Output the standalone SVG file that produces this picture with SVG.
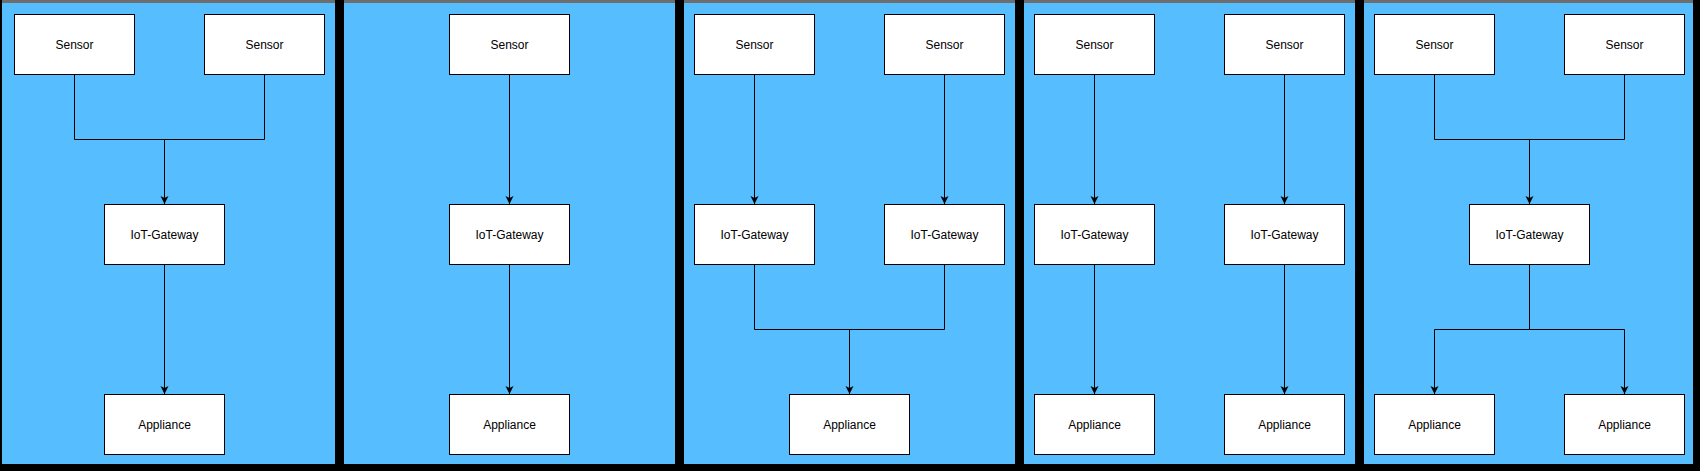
<svg xmlns="http://www.w3.org/2000/svg" width="1700" height="471" viewBox="0 0 1700 471">
<defs>
<style>
.panel{fill:#56BEFE}
.top{fill:#6e6e6e}
.box{fill:#ffffff;stroke:#000000;stroke-width:1}
.lbl{font-family:"Liberation Sans",Arial,Helvetica,sans-serif;font-size:12px;fill:#000000;text-anchor:middle}
.edge{fill:none;stroke:#000000;stroke-width:1}
.arr{fill:none;stroke:#000000;stroke-width:1;marker-end:url(#ah)}
</style>
<marker id="ah" markerUnits="userSpaceOnUse" markerWidth="10" markerHeight="10" refX="8" refY="4" orient="auto">
<path d="M0,0 L8,4 L0,8 L2,4 z" fill="#000000"/>
</marker>
</defs>
<rect x="0" y="0" width="1700" height="471" fill="#000000"/>
<g id="panels">
<rect class="panel" x="2" y="3" width="333" height="461"/>
<rect class="panel" x="344" y="3" width="331" height="461"/>
<rect class="panel" x="684" y="3" width="331" height="461"/>
<rect class="panel" x="1024" y="3" width="331" height="461"/>
<rect class="panel" x="1364" y="3" width="329" height="461"/>
<rect class="top" x="2" y="0" width="333" height="3"/>
<rect class="top" x="344" y="0" width="331" height="3"/>
<rect class="top" x="684" y="0" width="331" height="3"/>
<rect class="top" x="1024" y="0" width="331" height="3"/>
<rect class="top" x="1364" y="0" width="329" height="3"/>
</g>
<g id="connectors">
<path class="edge" d="M74.5,74.5 V139.5 H264.5 V74.5"/>
<path class="arr" d="M164.5,139.5 V204"/>
<path class="arr" d="M164.5,264.5 V394"/>
<path class="arr" d="M509.5,74.5 V204"/>
<path class="arr" d="M509.5,264.5 V394"/>
<path class="arr" d="M754.5,74.5 V204"/>
<path class="arr" d="M944.5,74.5 V204"/>
<path class="edge" d="M754.5,264.5 V329.5 H944.5 V264.5"/>
<path class="arr" d="M849.5,329.5 V394"/>
<path class="arr" d="M1094.5,74.5 V204"/>
<path class="arr" d="M1284.5,74.5 V204"/>
<path class="arr" d="M1094.5,264.5 V394"/>
<path class="arr" d="M1284.5,264.5 V394"/>
<path class="edge" d="M1434.5,74.5 V139.5 H1624.5 V74.5"/>
<path class="arr" d="M1529.5,139.5 V204"/>
<path class="edge" d="M1529.5,264.5 V329.5"/>
<path class="arr" d="M1529.5,329.5 H1434.5 V394"/>
<path class="arr" d="M1529.5,329.5 H1624.5 V394"/>
</g>
<g id="p1-sensor1"><rect class="box" x="14.5" y="14.5" width="120" height="60"/><text class="lbl" x="74.5" y="48.8">Sensor</text></g>
<g id="p1-sensor2"><rect class="box" x="204.5" y="14.5" width="120" height="60"/><text class="lbl" x="264.5" y="48.8">Sensor</text></g>
<g id="p1-gateway"><rect class="box" x="104.5" y="204.5" width="120" height="60"/><text class="lbl" x="164.5" y="238.8">IoT-Gateway</text></g>
<g id="p1-appliance"><rect class="box" x="104.5" y="394.5" width="120" height="60"/><text class="lbl" x="164.5" y="428.8">Appliance</text></g>
<g id="p2-sensor"><rect class="box" x="449.5" y="14.5" width="120" height="60"/><text class="lbl" x="509.5" y="48.8">Sensor</text></g>
<g id="p2-gateway"><rect class="box" x="449.5" y="204.5" width="120" height="60"/><text class="lbl" x="509.5" y="238.8">IoT-Gateway</text></g>
<g id="p2-appliance"><rect class="box" x="449.5" y="394.5" width="120" height="60"/><text class="lbl" x="509.5" y="428.8">Appliance</text></g>
<g id="p3-sensor1"><rect class="box" x="694.5" y="14.5" width="120" height="60"/><text class="lbl" x="754.5" y="48.8">Sensor</text></g>
<g id="p3-sensor2"><rect class="box" x="884.5" y="14.5" width="120" height="60"/><text class="lbl" x="944.5" y="48.8">Sensor</text></g>
<g id="p3-gateway1"><rect class="box" x="694.5" y="204.5" width="120" height="60"/><text class="lbl" x="754.5" y="238.8">IoT-Gateway</text></g>
<g id="p3-gateway2"><rect class="box" x="884.5" y="204.5" width="120" height="60"/><text class="lbl" x="944.5" y="238.8">IoT-Gateway</text></g>
<g id="p3-appliance"><rect class="box" x="789.5" y="394.5" width="120" height="60"/><text class="lbl" x="849.5" y="428.8">Appliance</text></g>
<g id="p4-sensor1"><rect class="box" x="1034.5" y="14.5" width="120" height="60"/><text class="lbl" x="1094.5" y="48.8">Sensor</text></g>
<g id="p4-sensor2"><rect class="box" x="1224.5" y="14.5" width="120" height="60"/><text class="lbl" x="1284.5" y="48.8">Sensor</text></g>
<g id="p4-gateway1"><rect class="box" x="1034.5" y="204.5" width="120" height="60"/><text class="lbl" x="1094.5" y="238.8">IoT-Gateway</text></g>
<g id="p4-gateway2"><rect class="box" x="1224.5" y="204.5" width="120" height="60"/><text class="lbl" x="1284.5" y="238.8">IoT-Gateway</text></g>
<g id="p4-appliance1"><rect class="box" x="1034.5" y="394.5" width="120" height="60"/><text class="lbl" x="1094.5" y="428.8">Appliance</text></g>
<g id="p4-appliance2"><rect class="box" x="1224.5" y="394.5" width="120" height="60"/><text class="lbl" x="1284.5" y="428.8">Appliance</text></g>
<g id="p5-sensor1"><rect class="box" x="1374.5" y="14.5" width="120" height="60"/><text class="lbl" x="1434.5" y="48.8">Sensor</text></g>
<g id="p5-sensor2"><rect class="box" x="1564.5" y="14.5" width="120" height="60"/><text class="lbl" x="1624.5" y="48.8">Sensor</text></g>
<g id="p5-gateway"><rect class="box" x="1469.5" y="204.5" width="120" height="60"/><text class="lbl" x="1529.5" y="238.8">IoT-Gateway</text></g>
<g id="p5-appliance1"><rect class="box" x="1374.5" y="394.5" width="120" height="60"/><text class="lbl" x="1434.5" y="428.8">Appliance</text></g>
<g id="p5-appliance2"><rect class="box" x="1564.5" y="394.5" width="120" height="60"/><text class="lbl" x="1624.5" y="428.8">Appliance</text></g>
</svg>
